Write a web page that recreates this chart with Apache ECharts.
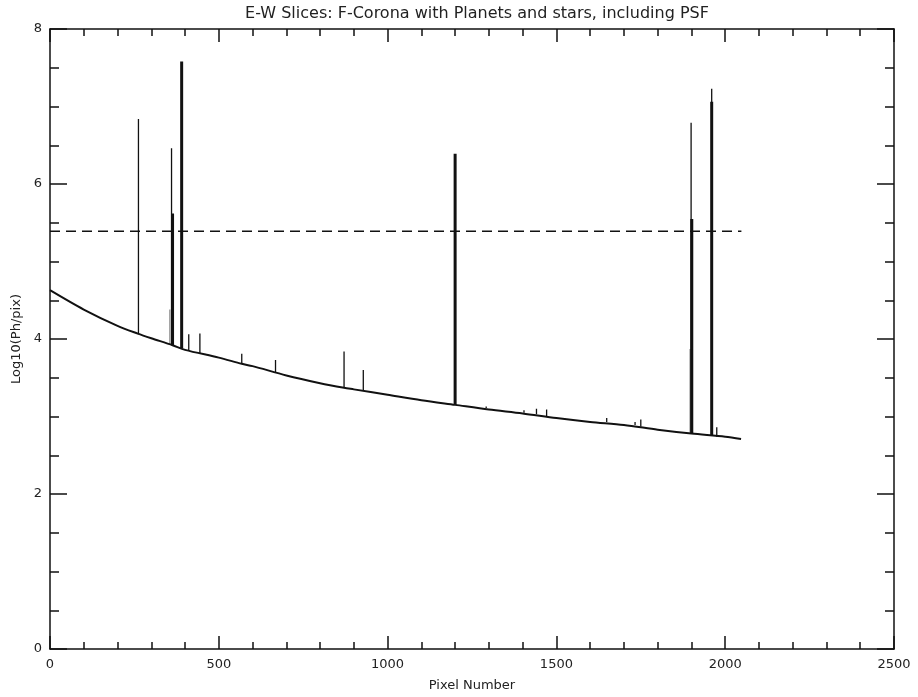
<!DOCTYPE html>
<html><head><meta charset="utf-8">
<script src="https://cdn.jsdelivr.net/npm/echarts@6/dist/echarts.min.js"></script>
<style>html,body{margin:0;padding:0;background:#fff}#c{width:918px;height:697px}</style>
</head><body><div id="c"></div>
<script>
// F-corona background curve (pixel number, log10 photons/pix)
const curveX = [0, 100, 200, 260, 300, 363, 400, 500, 568, 600, 700, 800, 871, 900, 1000, 1100, 1200, 1300, 1400, 1500, 1600, 1700, 1800, 1900, 2000, 2047];
const curveY = [4.63, 4.38, 4.17, 4.07, 4.01, 3.92, 3.86, 3.76, 3.68, 3.65, 3.53, 3.43, 3.37, 3.35, 3.28, 3.21, 3.15, 3.09, 3.04, 2.98, 2.93, 2.89, 2.83, 2.78, 2.74, 2.71];
// thin black spikes (stars / planets)
const thinX    = [262, 360, 411, 444, 568, 668, 871, 928, 1292, 1404, 1441, 1471, 1649, 1733, 1750, 1899, 1960, 1975];
const thinBase = [4.06, 3.93, 3.85, 3.81, 3.68, 3.57, 3.37, 3.33, 3.11, 3.05, 3.03, 3.00, 2.93, 2.89, 2.87, 2.78, 2.75, 2.74];
const thinTop  = [6.84, 6.46, 4.06, 4.07, 3.81, 3.73, 3.84, 3.60, 3.13, 3.08, 3.10, 3.09, 2.98, 2.93, 2.96, 6.79, 7.23, 2.86];
// thick spikes (bright planets)
const thickX    = [363, 390, 1200, 1901, 1960];
const thickBase = [3.92, 3.88, 3.15, 2.78, 2.75];
const thickTop  = [5.62, 7.58, 6.39, 5.55, 7.06];
// faint grey spikes
const greyX    = [355, 1896];
const greyBase = [3.94, 2.79];
const greyTop  = [4.38, 3.87];
// saturation level (dashed)
const satX = [0, 2048];
const satLevel = 5.39;
// axes
const xTicks = [0, 500, 1000, 1500, 2000, 2500];
const yTicks = [0, 2, 4, 6, 8];

function segs(xs, b, t) {
  const d = [];
  xs.forEach((x, i) => { d.push([x, b[i]]); d.push([x, t[i]]); d.push([x, '-']); });
  return d;
}
const font = 'DejaVu Sans';
const axisCommon = {
  axisLine: {show: true, onZero: false, lineStyle: {color: '#111', width: 1.5}},
  splitLine: {show: false},
};
const chart = echarts.init(document.getElementById('c'), null, {renderer: 'canvas'});
chart.setOption({
  animation: false,
  backgroundColor: '#fff',
  title: {
    text: 'E-W Slices: F-Corona with Planets and stars, including PSF',
    left: 472, top: 1, textAlign: 'center',
    textStyle: {fontFamily: font, fontSize: 16, fontWeight: 'normal', color: '#222'}
  },
  grid: {left: 50, right: 24, top: 29, bottom: 44, containLabel: false},
  xAxis: [
    Object.assign({}, axisCommon, {
      type: 'value', min: xTicks[0], max: xTicks[xTicks.length - 1], interval: 500, position: 'bottom',
      name: 'Pixel Number', nameLocation: 'middle', nameGap: 30,
      nameTextStyle: {fontFamily: font, fontSize: 13, color: '#222'},
      axisTick: {show: true, inside: true, length: 13, lineStyle: {color: '#111', width: 1.5}},
      minorTick: {show: true, splitNumber: 5, length: 7, lineStyle: {color: '#111', width: 1.5}},
      axisLabel: {fontFamily: font, fontSize: 13, color: '#222', margin: 9, formatter: v => String(v)}
    }),
    Object.assign({}, axisCommon, {
      type: 'value', min: 0, max: 2500, interval: 500, position: 'top',
      axisTick: {show: true, inside: true, length: 13, lineStyle: {color: '#111', width: 1.5}},
      minorTick: {show: true, splitNumber: 5, length: 7, lineStyle: {color: '#111', width: 1.5}},
      axisLabel: {show: false}
    })
  ],
  yAxis: [
    Object.assign({}, axisCommon, {
      type: 'value', min: yTicks[0], max: yTicks[yTicks.length - 1], interval: 2, position: 'left',
      name: 'Log10(Ph/pix)', nameLocation: 'middle', nameGap: 27,
      nameTextStyle: {fontFamily: font, fontSize: 13, color: '#222'},
      axisTick: {show: true, inside: true, length: 17, lineStyle: {color: '#111', width: 1.5}},
      minorTick: {show: true, splitNumber: 4, length: 9, lineStyle: {color: '#111', width: 1.5}},
      axisLabel: {fontFamily: font, fontSize: 13, color: '#222', margin: 8, formatter: v => String(v)}
    }),
    Object.assign({}, axisCommon, {
      type: 'value', min: 0, max: 8, interval: 2, position: 'right',
      axisTick: {show: true, inside: true, length: 17, lineStyle: {color: '#111', width: 1.5}},
      minorTick: {show: true, splitNumber: 4, length: 9, lineStyle: {color: '#111', width: 1.5}},
      axisLabel: {show: false}
    })
  ],
  series: [
    {type: 'line', name: 'sat', data: satX.map(x => [x, satLevel]), showSymbol: false, symbol: 'none',
     lineStyle: {color: '#111', width: 1.5, type: [10, 6]}, silent: true},
    {type: 'line', name: 'grey', data: segs(greyX, greyBase, greyTop), symbol: 'none', connectNulls: false,
     lineStyle: {color: '#888', width: 1.2}},
    {type: 'line', name: 'thin', data: segs(thinX, thinBase, thinTop), symbol: 'none', connectNulls: false,
     lineStyle: {color: '#111', width: 1.3}},
    {type: 'line', name: 'thick', data: segs(thickX, thickBase, thickTop), symbol: 'none', connectNulls: false,
     lineStyle: {color: '#111', width: 3}},
    {type: 'line', name: 'curve', data: curveX.map((x, i) => [x, curveY[i]]), symbol: 'none', smooth: 0.3,
     lineStyle: {color: '#111', width: 2}}
  ]
});
</script></body></html>
